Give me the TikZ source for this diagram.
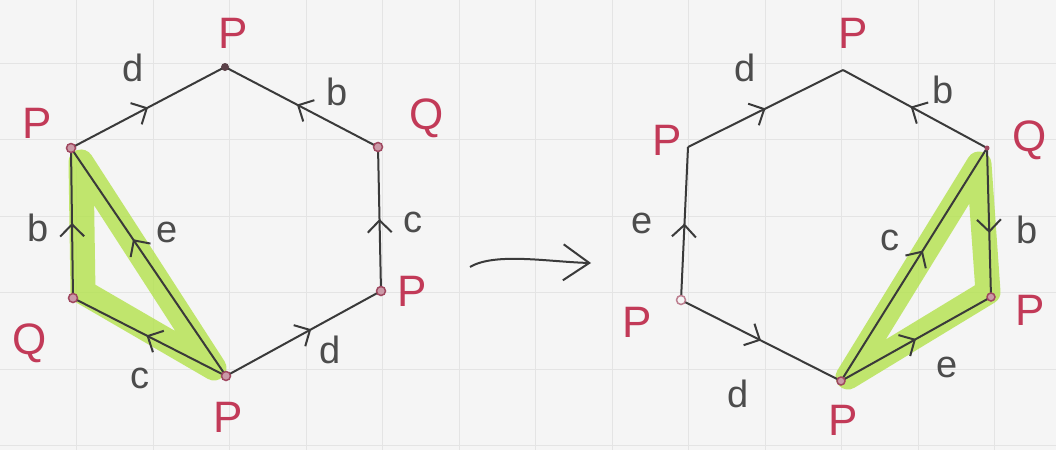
\documentclass[tikz,border=0pt]{standalone}
\usepackage{fontspec}
\setmainfont{Liberation Sans}
\usetikzlibrary{arrows.meta,decorations.markings}
\definecolor{paper}{HTML}{F5F5F5}
\definecolor{gridc}{HTML}{E4E4E4}
\definecolor{ink}{HTML}{3A3A3A}
\definecolor{lab}{HTML}{4C4C4C}
\definecolor{redink}{HTML}{C23A58}
\definecolor{hl}{HTML}{B3E24C}
\definecolor{dotc}{HTML}{A04860}
\definecolor{topdot}{HTML}{5A4048}
\tikzset{
 edge/.style={draw=ink, line width=2pt},
 marked/.style={edge, postaction={decorate}, decoration={markings, mark=at position #1 with {\arrow{Straight Barb[length=12pt,width=24pt,line width=2pt]}}}},
 marked/.default=0.5,
 vlab/.style={text=redink, font=\fontsize{44}{44}\selectfont, inner sep=0pt},
 elab/.style={text=lab, font=\fontsize{38}{38}\selectfont, inner sep=0pt},
 vdot/.style={circle, draw=dotc, fill=dotc!55, line width=1.5pt, minimum size=9pt, inner sep=0pt},
 vring/.style={circle, draw=dotc!70, fill=paper, line width=1.5pt, minimum size=9pt, inner sep=0pt},
 hlband/.style={draw=hl, line width=25pt, line cap=round, line join=round, opacity=0.8},
}
\begin{document}
\begin{tikzpicture}[x=1pt,y=-1pt]
\useasboundingbox (0,0) rectangle (1056,450);
\fill[paper] (0,0) rectangle (1056,450);
\foreach \gx in {76.5,153,229.5,306,382.5,459,535.5,612,688.5,765,841.5,918,994.5}
  \draw[gridc, line width=1pt] (\gx,0) -- (\gx,450);
\foreach \gy in {63,139.5,216,292.5,369,445.5}
  \draw[gridc, line width=1pt] (0,\gy) -- (1056,\gy);

% ---------- left hexagon ----------
\coordinate (LT) at (225,67);
\coordinate (LUR) at (378,147);
\coordinate (LLR) at (381,291);
\coordinate (LB) at (226,376);
\coordinate (LLL) at (73,298);
\coordinate (LUL) at (71,148);

\draw[hlband] (81,162) -- (83,292) -- (214,368) -- cycle;

\draw[marked] (LUL) -- (LT);
\draw[marked=0.53] (LUR) -- (LT);
\draw[marked] (LLR) -- (LUR);
\draw[marked=0.55] (LB) -- (LLR);
\draw[marked=0.52] (LB) -- (LLL);
\draw[marked] (LLL) -- (LUL);
\draw[marked=0.6] (LB) -- (LUL);

\node[circle, fill=topdot, minimum size=8pt, inner sep=0pt] (LTd) at (LT) {};
\node[vdot] (LURd) at (LUR) {};
\node[vdot] (LLRd) at (LLR) {};
\node[vdot] (LBd) at (LB) {};
\node[vdot] (LLLd) at (LLL) {};
\node[vdot] (LULd) at (LUL) {};

\node[vlab] (pLT) at (233,33) {P};
\node[vlab] (pLUR) at (427,118) {Q};
\node[vlab] (pLLR) at (412,291) {P};
\node[vlab] (pLB) at (228,417) {P};
\node[vlab] (pLLL) at (30,343) {Q};
\node[vlab] (pLUL) at (37,123) {P};

\node[elab] (eL1) at (133,68) {d};
\node[elab] (eL2) at (337,92) {b};
\node[elab] (eL3) at (413,222) {c};
\node[elab] (eL4) at (330,350) {d};
\node[elab] (eL5) at (140,378) {c};
\node[elab] (eL6) at (38,228) {b};
\node[elab] (eL7) at (167,232) {e};

% ---------- middle arrow ----------
\coordinate (A1) at (470,267);
\coordinate (A2) at (591,263);
\draw[ink, line width=2pt, -{Straight Barb[length=26pt,width=36pt,line width=2pt]}] (A1) .. controls (495,252) and (550,262) .. (A2);

% ---------- right hexagon ----------
\coordinate (RT) at (843,70);
\coordinate (RUR) at (987,148);
\coordinate (RLR) at (991,297);
\coordinate (RB) at (841,381);
\coordinate (RLL) at (681,300);
\coordinate (RUL) at (688,147);

\draw[hlband] (979,164) -- (988,292) -- (848,377) -- cycle;

\draw[marked] (RUL) -- (RT);
\draw[marked=0.53] (RUR) -- (RT);
\draw[marked] (RLL) -- (RUL);
\draw[marked] (RLL) -- (RB);
\draw[marked] (RB) -- (RLR);
\draw[marked=0.57] (RUR) -- (RLR);
\draw[marked=0.56] (RB) -- (RUR);

\node[vring] (RLLd) at (RLL) {};
\node[vdot, minimum size=8pt] (RLRd) at (RLR) {};
\node[vdot, minimum size=8pt] (RBd) at (RB) {};
\node[circle, fill=dotc, minimum size=5pt, inner sep=0pt] (RURd) at (RUR) {};

\node[vlab] (pRT) at (853,33) {P};
\node[vlab] (pRUR) at (1030,140) {Q};
\node[vlab] (pRLR) at (1030,310) {P};
\node[vlab] (pRB) at (843,420) {P};
\node[vlab] (pRLL) at (637,322) {P};
\node[vlab] (pRUL) at (667,140) {P};

\node[elab] (eR1) at (745,68) {d};
\node[elab] (eR2) at (943,90) {b};
\node[elab] (eR3) at (642,223) {e};
\node[elab] (eR4) at (738,394) {d};
\node[elab] (eR5) at (947,367) {e};
\node[elab] (eR6) at (1027,230) {b};
\node[elab] (eR7) at (890,240) {c};
\end{tikzpicture}
\end{document}
